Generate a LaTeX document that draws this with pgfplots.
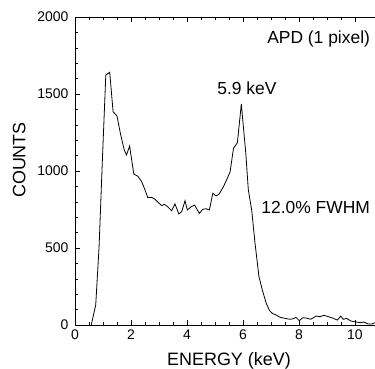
\documentclass[border=0pt]{standalone}
\usepackage{pgfplots}
\pgfplotsset{compat=1.18}
\usepackage{fontspec}
\setmainfont{Liberation Sans}
\begin{document}
\begin{tikzpicture}
\begin{axis}[
  scale only axis,
  width=308bp, height=308bp,
  xmin=0, xmax=11, ymin=0, ymax=2000,
  xtick={0,2,4,6,8,10}, ytick={0,500,1000,1500,2000},
  minor x tick num=3, minor y tick num=4,
  tick align=inside,
  major tick length=5bp, minor tick length=3bp,
  /pgf/number format/assume math mode=true,
  /pgf/number format/1000 sep={},
  tick label style={font=\fontsize{14}{16}\selectfont},
  yticklabel style={xshift=-3bp},
  xticklabel style={yshift=-1bp},
  xlabel={ENERGY (keV)}, ylabel={COUNTS},
  label style={font=\fontsize{18}{20}\selectfont},
  xlabel style={yshift=-6bp},
  ylabel style={yshift=5bp, xshift=11bp},
  axis line style={line width=0.8pt},
  every tick/.style={black, line width=0.6pt},
  clip=false,
]
\addplot[black, line width=0.8pt, mark=none] coordinates {
(0.58,0) (0.74,130) (0.86,508) (0.98,1080) (1.10,1623) (1.24,1641) (1.36,1385)
(1.50,1357) (1.62,1245) (1.76,1136) (1.84,1104) (1.95,1162) (2.10,980)
(2.24,967) (2.38,931) (2.48,887) (2.60,827) (2.74,829) (2.86,816) (2.98,794)
(3.10,775) (3.19,784) (3.31,768) (3.45,742) (3.57,786) (3.71,721) (3.81,736)
(3.93,807) (4.01,747) (4.15,768) (4.27,779) (4.44,725) (4.56,751) (4.68,755)
(4.80,747) (4.92,855) (5.04,838) (5.15,851) (5.30,898) (5.44,952) (5.54,996)
(5.66,1147) (5.80,1184) (5.94,1435) (6.10,1115) (6.19,877) (6.31,747)
(6.43,530) (6.57,314) (6.69,227) (6.83,141) (6.95,93) (7.05,75) (7.18,65)
(7.32,50) (7.50,43) (7.68,37) (7.80,41) (7.89,50) (8.01,28) (8.13,47)
(8.27,45) (8.42,37) (8.61,58) (8.75,54) (8.89,63) (9.05,54) (9.23,43)
(9.37,32) (9.49,58) (9.58,37) (9.70,43) (9.85,26) (10.00,21) (10.18,15)
(10.32,19) (10.48,6) (10.60,6) (10.71,15) (10.80,12)
};
\node[anchor=east, font=\fontsize{17.5}{20}\selectfont] at (axis cs:10.66,1857) {APD (1 pixel)};
\node[font=\fontsize{17.5}{20}\selectfont] at (axis cs:6.14,1539) {5.9 keV};
\node[anchor=east, font=\fontsize{17.5}{20}\selectfont] at (axis cs:10.66,766) {12.0\% FWHM};
\end{axis}
\pgfresetboundingbox
\path (current axis.south west) ++(-75bp,-44bp) rectangle ++(375bp,369bp);
\end{tikzpicture}
\end{document}
